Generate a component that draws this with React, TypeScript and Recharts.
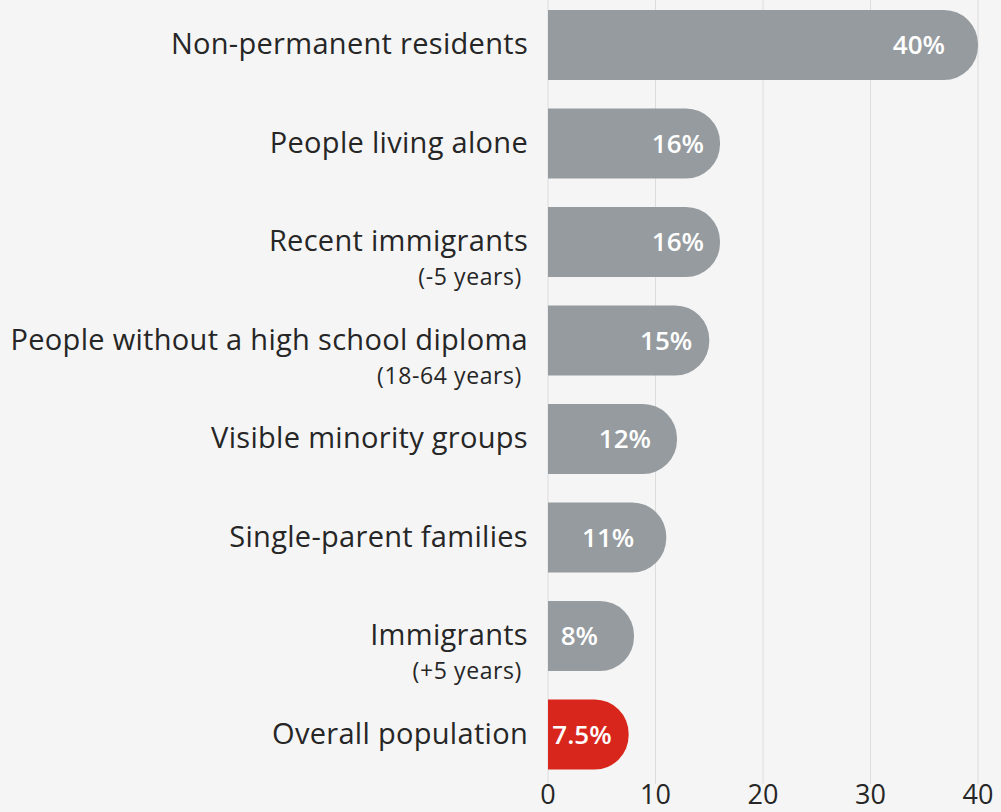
import React from 'react';
import { BarChart, Bar, XAxis, YAxis, CartesianGrid, Cell, LabelList } from 'recharts';

const categories = [
  'Non-permanent residents',
  'People living alone',
  'Recent immigrants',
  'People without a high school diploma',
  'Visible minority groups',
  'Single-parent families',
  'Immigrants',
  'Overall population',
];
const subLabels = ['', '', '(-5 years)', '(18-64 years)', '', '', '(+5 years)', ''];
const values = [40, 16, 16, 15, 12, 11, 8, 7.5];
const valueLabels = ['40%', '16%', '16%', '15%', '12%', '11%', '8%', '7.5%'];
const xTicks = [0, 10, 20, 30, 40];

const GREY = '#959b9e';
const RED = '#d8261d';
const FONT = '"Open Sans", "Noto Sans", sans-serif';
// distance from bar end to the right edge of each value label (px)
const LABEL_INSET = [33, 16, 16, 17, 26, 32, 36, 17];

const data = categories.map((name, i) => ({
  name,
  sub: subLabels[i],
  value: values[i],
  label: valueLabels[i],
}));

const CategoryTick = (props: any) => {
  const { x, y, payload } = props;
  const idx = categories.indexOf(payload.value);
  const sub = subLabels[idx];
  return (
    <g>
      <text x={x - 12} y={y} dy={9} textAnchor="end" fontSize={29} letterSpacing={0.3} fill="#262626" fontFamily={FONT}>
        {payload.value}
      </text>
      {sub && (
        <text x={x - 18} y={y + 35} dy={8} textAnchor="end" fontSize={23} letterSpacing={0.6} fill="#262626" fontFamily={FONT}>
          {sub}
        </text>
      )}
    </g>
  );
};

const ValueLabel = (props: any) => {
  const { x, y, width, height, value, index } = props;
  const right = x + width - (LABEL_INSET[index] ?? 30);
  return (
    <text
      x={right}
      y={y + height / 2}
      dy={9}
      textAnchor="end"
      fontSize={26}
      fontWeight={600}
      fill="#ffffff"
      fontFamily={FONT}
    >
      {value}
    </text>
  );
};

export default function App() {
  return (
    <div style={{ position: 'absolute', left: 0, top: 0, width: 1001, height: 812, background: '#f5f5f5' }}>
      <BarChart
        width={1001}
        height={812}
        data={data}
        layout="vertical"
        margin={{ top: -4, right: 23, bottom: 0, left: 0 }}
      >
        <CartesianGrid horizontal={false} stroke="#dcdcdc" />
        <XAxis
          type="number"
          domain={[0, 40]}
          ticks={xTicks}
          axisLine={false}
          tickLine={false}
          tickSize={0}
          height={28}
          tickMargin={1}
          tick={{ fontSize: 27, fill: '#262626', fontFamily: FONT }}
        />
        <YAxis
          type="category"
          dataKey="name"
          width={548}
          axisLine={false}
          tickLine={false}
          tick={<CategoryTick />}
          interval={0}
        />
        <Bar dataKey="value" barSize={70} radius={[0, 34, 34, 0]} isAnimationActive={false}>
          {data.map((d, i) => (
            <Cell key={`cell-${i}`} fill={i === data.length - 1 ? RED : GREY} />
          ))}
          <LabelList dataKey="label" content={<ValueLabel />} />
        </Bar>
      </BarChart>
    </div>
  );
}
